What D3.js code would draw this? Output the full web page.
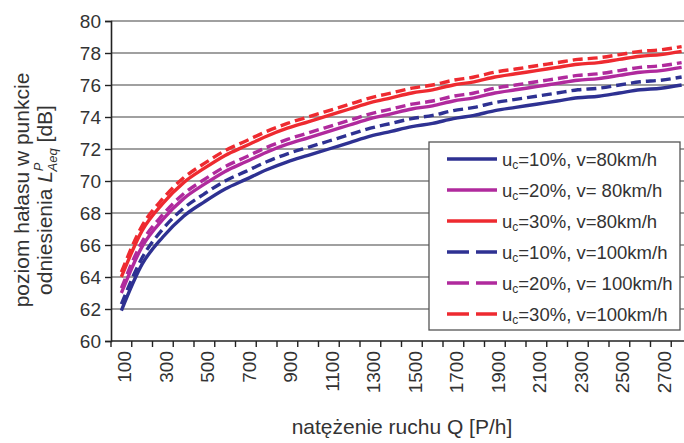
<!DOCTYPE html>
<html>
<head>
<meta charset="utf-8">
<script src="https://cdn.jsdelivr.net/npm/d3@7"></script>
<style>
  body { margin: 0; background: #fff; }
  text { font-family: "Liberation Sans", Arial, sans-serif; fill: #333; }
</style>
</head>
<body>
<script>
const WIDTH = 684;
const HEIGHT = 443;

// traffic volume Q [P/h], one category per 100
const qValues = [100, 200, 300, 400, 500, 600, 700, 800, 900, 1000,
    1100, 1200, 1300, 1400, 1500, 1600, 1700, 1800, 1900, 2000,
    2100, 2200, 2300, 2400, 2500, 2600, 2700, 2800];
const xTickLabels = ["100", "300", "500", "700", "900", "1100", "1300", "1500",
    "1700", "1900", "2100", "2300", "2500", "2700"];
const yTicks = [60, 62, 64, 66, 68, 70, 72, 74, 76, 78, 80];

// L [dB]
const uc10v80 = [61.9, 64.8, 66.5, 67.8, 68.7, 69.5, 70.1, 70.7, 71.2, 71.6,
    72.0, 72.4, 72.8, 73.1, 73.4, 73.6, 73.9, 74.1, 74.4, 74.6,
    74.8, 75.0, 75.2, 75.3, 75.5, 75.7, 75.8, 76.0];
const uc20v80 = [63.0, 65.9, 67.6, 68.9, 69.8, 70.6, 71.2, 71.8, 72.3, 72.7,
    73.1, 73.5, 73.9, 74.2, 74.5, 74.7, 75.0, 75.2, 75.5, 75.7,
    75.9, 76.1, 76.3, 76.4, 76.6, 76.8, 76.9, 77.1];
const uc30v80 = [64.0, 66.9, 68.6, 69.9, 70.8, 71.6, 72.2, 72.8, 73.3, 73.7,
    74.1, 74.5, 74.9, 75.2, 75.5, 75.7, 76.0, 76.2, 76.5, 76.7,
    76.9, 77.1, 77.3, 77.4, 77.6, 77.8, 77.9, 78.1];
const uc10v100 = [62.3, 65.2, 67.0, 68.3, 69.2, 70.0, 70.6, 71.2, 71.7, 72.1,
    72.5, 72.9, 73.3, 73.6, 73.9, 74.1, 74.4, 74.6, 74.9, 75.1,
    75.3, 75.5, 75.7, 75.8, 76.0, 76.2, 76.3, 76.5];
const uc20v100 = [63.3, 66.2, 67.9, 69.2, 70.1, 70.9, 71.5, 72.1, 72.6, 73.0,
    73.4, 73.8, 74.2, 74.5, 74.8, 75.0, 75.3, 75.5, 75.8, 76.0,
    76.2, 76.4, 76.6, 76.7, 76.9, 77.1, 77.2, 77.4];
const uc30v100 = [64.3, 67.2, 68.9, 70.2, 71.1, 71.9, 72.5, 73.1, 73.6, 74.0,
    74.4, 74.8, 75.2, 75.5, 75.8, 76.0, 76.3, 76.5, 76.8, 77.0,
    77.2, 77.4, 77.6, 77.7, 77.9, 78.1, 78.2, 78.4];

const legendUc = ["10%", "20%", "30%", "10%", "20%", "30%"];
const legendV = ["v=80km/h", "v= 80km/h", "v=80km/h", "v=100km/h", "v= 100km/h", "v=100km/h"];

const BLUE = "#2e3192";
const MAGENTA = "#b02a9d";
const RED = "#ee2a30";

const series = [
    { values: uc10v80, color: BLUE, dashed: false },
    { values: uc20v80, color: MAGENTA, dashed: false },
    { values: uc30v80, color: RED, dashed: false },
    { values: uc10v100, color: BLUE, dashed: true },
    { values: uc20v100, color: MAGENTA, dashed: true },
    { values: uc30v100, color: RED, dashed: true },
];

const margin = { left: 111, top: 21, right: -8, bottom: 102 };

function main() {
    const svg = d3.select("body").append("svg")
        .attr("width", WIDTH)
        .attr("height", HEIGHT)
        .attr("viewBox", [0, 0, WIDTH, HEIGHT]);

    const x = d3.scaleBand()
        .domain(qValues)
        .range([margin.left, WIDTH - margin.right])
        .padding(0);

    const y = d3.scaleLinear()
        .domain([60, 80])
        .range([HEIGHT - margin.bottom, margin.top]);

    drawGrid(svg, x, y);
    drawLines(svg, x, y);
    drawAxes(svg, x, y);
    drawLegend(svg);
    drawTitles(svg);
}

function drawGrid(svg, x, y) {
    svg.append("g")
        .selectAll("line")
        .data(yTicks.slice(1))
        .join("line")
            .attr("x1", margin.left)
            .attr("x2", WIDTH - margin.right)
            .attr("y1", d => y(d))
            .attr("y2", d => y(d))
            .attr("stroke", "#808080")
            .attr("stroke-width", 1.7);
}

function drawLines(svg, x, y) {
    const line = d3.line()
        .x((d, i) => x(qValues[i]) + x.bandwidth() / 2)
        .y(d => y(d))
        .curve(d3.curveMonotoneX);

    svg.append("g")
            .attr("fill", "none")
        .selectAll("path")
        .data(series)
        .join("path")
            .attr("d", d => line(d.values))
            .attr("stroke", d => d.color)
            .attr("stroke-width", 3.4)
            .attr("stroke-dasharray", d => d.dashed ? "10,5" : null);
}

function drawAxes(svg, x, y) {
    const bottom = y(60);

    // y axis
    const yAxis = svg.append("g")
        .attr("transform", `translate(${margin.left},0)`)
        .call(d3.axisLeft(y).tickValues(yTicks).tickSize(6).tickPadding(4));
    yAxis.select(".domain").attr("stroke", "#222").attr("stroke-width", 1.6);
    yAxis.selectAll(".tick line").attr("stroke", "#222").attr("stroke-width", 1.4);
    yAxis.selectAll(".tick text")
        .attr("font-family", "Liberation Sans, Arial, sans-serif")
        .attr("font-size", 19)
        .attr("fill", "#333");

    // x axis: ticks between categories
    const bounds = qValues.map(q => x(q));
    const xAxis = svg.append("g");
    xAxis.append("line")
        .attr("x1", margin.left)
        .attr("x2", WIDTH - margin.right)
        .attr("y1", bottom)
        .attr("y2", bottom)
        .attr("stroke", "#222")
        .attr("stroke-width", 1.6);
    xAxis.selectAll("line.tick")
        .data(bounds)
        .join("line")
            .attr("class", "tick")
            .attr("x1", d => d)
            .attr("x2", d => d)
            .attr("y1", bottom)
            .attr("y2", bottom + 6)
            .attr("stroke", "#222")
            .attr("stroke-width", 1.4);

    xAxis.selectAll("text")
        .data(xTickLabels)
        .join("text")
            .attr("transform", d => `translate(${x(+d) + x.bandwidth() / 2 + 3},${bottom + 10}) rotate(-90)`)
            .attr("dy", "0.35em")
            .attr("text-anchor", "end")
            .attr("font-size", 19)
            .text(d => d);
}

function drawLegend(svg) {
    const box = { x: 429, y: 142, w: 251, h: 188 };
    const legend = svg.append("g");
    legend.append("rect")
        .attr("x", box.x)
        .attr("y", box.y)
        .attr("width", box.w)
        .attr("height", box.h)
        .attr("fill", "#fff")
        .attr("stroke", "#555")
        .attr("stroke-width", 1.3);

    const rows = legend.selectAll("g.row")
        .data(series)
        .join("g")
            .attr("class", "row")
            .attr("transform", (d, i) => `translate(${box.x + 18},${box.y + 17 + i * 31})`);

    rows.append("line")
        .attr("x1", 0)
        .attr("x2", 50)
        .attr("stroke", d => d.color)
        .attr("stroke-width", 3.4)
        .attr("stroke-dasharray", d => d.dashed ? "22,7" : null);

    const label = rows.append("text")
        .attr("x", 55)
        .attr("dy", "0.36em")
        .attr("font-size", 18.5);
    label.append("tspan").text("u");
    label.append("tspan")
        .attr("font-size", 12)
        .attr("baseline-shift", "-3")
        .text("c");
    label.append("tspan")
        .text((d, i) => `=${legendUc[i]}, ${legendV[i]}`);
}

function drawTitles(svg) {
    svg.append("text")
        .attr("x", 402)
        .attr("y", 434)
        .attr("text-anchor", "middle")
        .attr("font-size", 21)
        .text("natężenie ruchu Q [P/h]");

    svg.append("text")
        .attr("transform", "translate(29,190) rotate(-90)")
        .attr("text-anchor", "middle")
        .attr("font-size", 21)
        .text("poziom hałasu w punkcie");

    const second = svg.append("text")
        .attr("transform", "translate(52,200) rotate(-90)")
        .attr("text-anchor", "middle")
        .attr("font-size", 21);
    second.append("tspan").text("odniesienia ");
    second.append("tspan").attr("font-style", "italic").text("L");
    second.append("tspan")
        .attr("font-style", "italic")
        .attr("font-size", 13)
        .attr("dy", -9)
        .text("P");
    second.append("tspan")
        .attr("font-style", "italic")
        .attr("font-size", 13)
        .attr("dx", -8)
        .attr("dy", 14)
        .text("Aeq");
    second.append("tspan")
        .attr("dy", -5)
        .text(" [dB]");
}

main();
</script>
</body>
</html>
